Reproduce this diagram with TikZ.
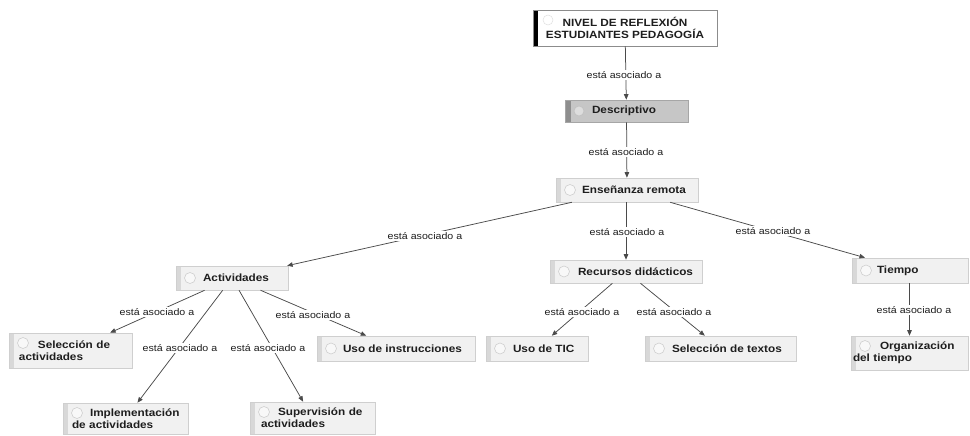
\documentclass[tikz,border=0pt]{standalone}
\usepackage{fontspec}
\setmainfont{Liberation Sans}
\newfontfamily\cmfont{Liberation Sans}[FakeStretch=1.12]
\usetikzlibrary{arrows.meta}
\definecolor{nfill}{HTML}{F1F1F1}
\definecolor{nborder}{HTML}{CFCFCF}
\definecolor{nstrip}{HTML}{D8D8D8}
\definecolor{icfill}{HTML}{F8F8F8}
\definecolor{dfill}{HTML}{C6C6C6}
\definecolor{dborder}{HTML}{A6A6A6}
\definecolor{dstrip}{HTML}{8E8E8E}
\definecolor{linec}{HTML}{4A4A4A}
\definecolor{txtc}{HTML}{1E1E1E}
\newcommand{\lbox}[2]{\makebox[#1][l]{#2}}
\begin{document}
\begin{tikzpicture}[x=1pt,y=-1pt,
  cnode/.style={rectangle, draw=nborder, fill=nfill, line width=0.6pt, inner sep=0pt,
    font=\cmfont\bfseries\fontsize{10.5}{12}\selectfont, text=txtc},
  icon1/.style={path picture={
    \fill[nstrip] (path picture bounding box.north west) rectangle ([xshift=5pt]path picture bounding box.south west);
    \draw[nborder,fill=icfill,line width=0.6pt] ([xshift=14pt]path picture bounding box.west) circle (5.5pt);}},
  icon2/.style={path picture={
    \fill[nstrip] (path picture bounding box.north west) rectangle ([xshift=5pt]path picture bounding box.south west);
    \draw[nborder,fill=icfill,line width=0.6pt] ([xshift=14pt,yshift=-10pt]path picture bounding box.north west) circle (5.5pt);}},
  lbl/.style={fill=white, inner sep=1pt, font=\cmfont\fontsize{9.5}{11}\selectfont, text=txtc},
  conn/.style={draw=linec, line width=0.75pt, -{Triangle[length=5.5pt,width=4.5pt]}}
]
\useasboundingbox (0,0) rectangle (970,436);

% top node
\node[rectangle, draw=black!45, fill=white, line width=0.8pt, inner sep=0pt,
  minimum width=184pt, minimum height=36pt, align=center,
  font=\cmfont\bfseries\fontsize{10.5}{12}\selectfont, text=txtc,
  path picture={\fill[black] (path picture bounding box.north west) rectangle ([xshift=5pt]path picture bounding box.south west);
    \draw[black!12,line width=0.5pt] ([xshift=15pt,yshift=-10pt]path picture bounding box.north west) circle (5pt);}]
  (niv) at (625,28) {NIVEL DE REFLEXIÓN\\ESTUDIANTES PEDAGOGÍA};

% descriptivo
\node[cnode, draw=dborder, fill=dfill, minimum width=123pt, minimum height=22pt,
  path picture={\fill[dstrip] (path picture bounding box.north west) rectangle ([xshift=6pt]path picture bounding box.south west);
    \draw[dborder!70!white, fill=dfill!60!white, line width=0.6pt] ([xshift=14pt]path picture bounding box.west) circle (5pt);}]
  (desc) at (626.5,111) {\lbox{69pt}{Descriptivo}};

\node[cnode, icon1, minimum width=142pt, minimum height=24pt] (ens) at (627,190) {\lbox{90pt}{Enseñanza remota}};
\node[cnode, icon1, minimum width=112pt, minimum height=24pt] (act) at (232,278) {\lbox{58pt}{Actividades}};
\node[cnode, icon1, minimum width=152pt, minimum height=23pt] (rec) at (626,271.5) {\lbox{96pt}{Recursos didácticos}};
\node[cnode, icon1, minimum width=116pt, minimum height=25pt] (tie) at (910,270.5) {\lbox{66pt}{Tiempo}};

\node[cnode, icon2, minimum width=123pt, minimum height=35pt, text width=103pt, align=left] (sel) at (70.5,350.5)
  {\hspace*{19pt}\mbox{Selección de}\\\mbox{actividades}};
\node[cnode, icon2, minimum width=125pt, minimum height=31pt, text width=107pt, align=left] (imp) at (125.5,418.5)
  {\hspace*{18pt}\mbox{Implementación}\\\mbox{de actividades}};
\node[cnode, icon2, minimum width=125pt, minimum height=32pt, text width=103pt, align=left] (sup) at (312.5,418)
  {\hspace*{17pt}\mbox{Supervisión de}\\\mbox{actividades}};
\node[cnode, icon1, minimum width=158pt, minimum height=25pt] (uso) at (396,348.5) {\lbox{106pt}{Uso de instrucciones}};
\node[cnode, icon1, minimum width=102pt, minimum height=25pt] (tic) at (537,348.5) {\lbox{48pt}{Uso de TIC}};
\node[cnode, icon1, minimum width=151pt, minimum height=25pt] (stx) at (720.5,348.5) {\lbox{97pt}{Selección de textos}};
\node[cnode, icon2, minimum width=117pt, minimum height=34pt, text width=113pt, align=left] (org) at (909.5,353)
  {\hspace*{27pt}\mbox{Organización}\\\mbox{del tiempo}};

% connectors
\draw[conn] (niv) -- (desc);
\draw[conn] (desc) -- (ens);
\draw[conn] (ens) -- (act);
\draw[conn] (ens.south -| rec) -- (rec);
\draw[conn] (ens) -- (tie);
\draw[conn] (act) -- (sel);
\draw[conn] (act) -- (imp);
\draw[conn] (act) -- (sup);
\draw[conn] (act) -- (uso);
\draw[conn] (rec) -- (tic);
\draw[conn] (rec) -- (stx);
\draw[conn] (tie.south -| org) -- (org);

% labels
\node[lbl] (l1) at (624,75) {está asociado a};
\node[lbl] (l2) at (626,152) {está asociado a};
\node[lbl] (l3) at (425,236) {está asociado a};
\node[lbl] (l4) at (627,232) {está asociado a};
\node[lbl] (l5) at (773,231) {está asociado a};
\node[lbl] (l6) at (157,312) {está asociado a};
\node[lbl] (l7) at (180,348) {está asociado a};
\node[lbl] (l8) at (268,348) {está asociado a};
\node[lbl] (l9) at (313,315) {está asociado a};
\node[lbl] (l10) at (582,312) {está asociado a};
\node[lbl] (l11) at (674,312) {está asociado a};
\node[lbl] (l12) at (914,310) {está asociado a};
\end{tikzpicture}
\end{document}
